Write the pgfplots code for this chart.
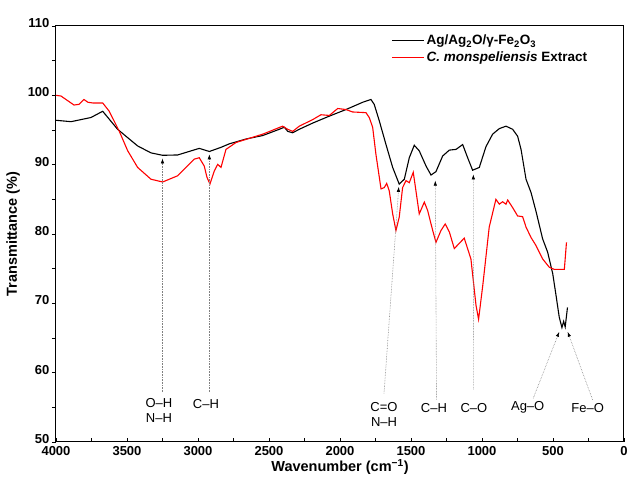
\documentclass[border=0pt]{standalone}
\usepackage{fontspec}
\setmainfont{Liberation Sans}
\usepackage{pgfplots}
\pgfplotsset{compat=1.18}
\usetikzlibrary{arrows.meta}

\pgfplotstableread{
w     t
4000  96.4
3894  96.2
3754  96.8
3671  97.7
3566  95.1
3425  92.7
3331  91.7
3249  91.35
3143  91.4
2991  92.35
2920  91.9
2838  92.5
2780  93.0
2662  93.7
2544  94.2
2428  95.1
2392  95.4
2368  94.8
2333  94.6
2287  95.1
2192  96.0
2075  97.0
1958  97.95
1840  99.0
1782  99.4
1759  98.7
1723  96.3
1676  92.9
1629  89.6
1583  87.2
1547  87.9
1512  91.0
1477  92.8
1442  92.0
1394  89.8
1359  88.5
1324  89.0
1277  91.25
1230  92.1
1183  92.2
1136  92.9
1101  91.0
1066  89.2
1019  89.6
972   92.6
925   94.4
878   95.2
831   95.55
784   95.1
749   94.1
725   92.2
690   87.9
655   86.0
620   83.3
573   79.3
538   77.4
502   74.3
479   71.2
456   68.0
437   66.5
425   67.4
414   66.6
398   69.4
}\nano

\pgfplotstableread{
w     t
4000  100.0
3965  99.9
3873  98.6
3838  98.7
3803  99.4
3775  99.0
3742  98.9
3671  98.9
3625  97.7
3554  94.8
3495  92.0
3425  89.6
3331  87.9
3249  87.5
3143  88.4
3026  90.8
2991  91.0
2956  89.8
2937  88.2
2916  87.2
2885  89.1
2861  90.05
2838  89.6
2803  92.2
2732  93.2
2544  94.4
2404  95.55
2368  95.1
2333  94.8
2287  95.55
2192  96.5
2134  97.2
2075  97.1
2016  98.1
1958  97.95
1911  97.6
1817  97.5
1794  96.8
1770  95.4
1747  91.5
1711  86.5
1688  86.7
1671  87.3
1653  86.2
1629  82.9
1606  80.5
1583  82.4
1559  86.7
1535  87.7
1512  87.4
1484  88.9
1465  86.2
1442  82.9
1406  84.6
1383  83.4
1347  80.5
1324  78.8
1289  80.5
1259  81.45
1230  80.3
1195  77.9
1125  79.4
1078  76.4
1042  69.7
1024  67.7
995   72.5
949   81.0
902   85.0
878   84.3
855   84.65
831   84.3
819   84.9
784   83.8
749   82.6
714   82.5
690   81.0
655   79.5
620   78.35
573   76.4
526   75.2
491   74.9
420   74.9
405   78.8
}\extract

\begin{document}
\begin{tikzpicture}
\path[use as bounding box] (-56pt,-50pt) rectangle (574pt,442pt);
\begin{axis}[
  scale only axis,
  width=568pt, height=416pt,
  x dir=reverse,
  xmin=0, xmax=4000, ymin=50, ymax=110,
  xtick distance=500, ytick distance=10,
  minor x tick num=1, minor y tick num=1,
  tick pos=left,
  tick align=inside,
  major tick length=4pt, minor tick length=4pt,
  y tick style={xshift=-4pt},
  yticklabel style={xshift=-3pt, yshift=3pt},
  xticklabel style={yshift=-1pt},
  tick style={black, line width=0.8pt},
  axis line style={black, line width=1pt},
  /pgf/number format/assume math mode=true,
  /pgf/number format/set thousands separator={},
  ticklabel style={font=\fontsize{13}{15}\selectfont\bfseries},
  label style={font=\fontsize{14.5}{17}\selectfont\bfseries},
  xlabel={Wavenumber (cm\textsuperscript{−1})},
  ylabel={Transmittance (\%)},
  xlabel style={yshift=3pt},
  ylabel style={yshift=1pt},
  legend style={at={(0.585,0.988)}, anchor=north west, draw=none, fill=none,
    font=\fontsize{13.5}{15}\selectfont\bfseries, row sep=1pt},
  legend cell align=left,
  legend image code/.code={\draw[#1] (0pt,0pt) -- (32pt,0pt);},
]
\addplot[black, line width=1.1pt] table[x=w, y=t] {\nano};
\addlegendentry{Ag/Ag\textsubscript{2}O/γ-Fe\textsubscript{2}O\textsubscript{3}}
\addplot[red, line width=1.1pt] table[x=w, y=t] {\extract};
\addlegendentry{\textit{C. monspeliensis} Extract}

\tikzset{ann/.style={gray, densely dotted, line width=0.6pt, -{Latex[black, length=5pt, width=3.5pt]}},
         lab/.style={font=\fontsize{13}{15}\selectfont, align=center, inner sep=1pt}}
\draw[ann] (axis cs:3250,57.2) -- (axis cs:3250,90.9);
\draw[ann] (axis cs:2920,57.2) -- (axis cs:2920,91.5);
\draw[ann] (axis cs:1690,57.0) -- (axis cs:1586,86.8);
\draw[ann] (axis cs:1320,56.1) -- (axis cs:1329,87.7);
\draw[ann] (axis cs:1059,57.6) -- (axis cs:1061,88.6);
\draw[ann] (axis cs:639,56.3) -- (axis cs:456,65.9);
\draw[ann] (axis cs:221,56.1) -- (axis cs:397,65.9);
\node[lab] at (axis cs:3275,54.5) {O–H\\N–H};
\node[lab] at (axis cs:2944,55.5) {C–H};
\node[lab] at (axis cs:1690,54.0) {C=O\\N–H};
\node[lab] at (axis cs:1338,54.9) {C–H};
\node[lab] at (axis cs:1057,54.9) {C–O};
\node[lab] at (axis cs:678,55.0) {Ag–O};
\node[lab] at (axis cs:256,54.9) {Fe–O};
\end{axis}
\end{tikzpicture}
\end{document}
